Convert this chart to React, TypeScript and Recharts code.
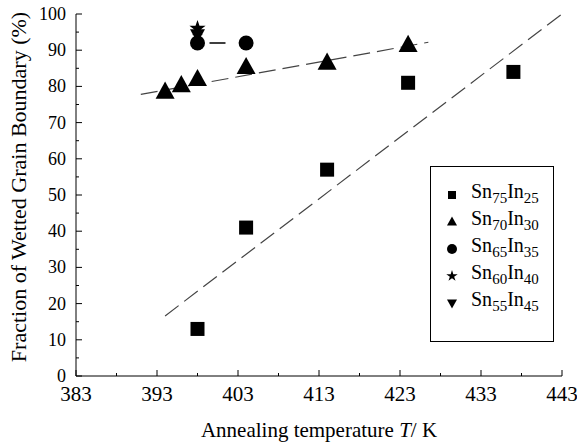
import {
  ComposedChart, Scatter, XAxis, YAxis, Label,
} from "recharts";

const FONT = "'Liberation Serif', 'DejaVu Serif', serif";

// measured points, T in K, fraction in %
const sn75 = [
  { t: 398, f: 13 },
  { t: 404, f: 41 },
  { t: 414, f: 57 },
  { t: 424, f: 81 },
  { t: 437, f: 84 },
];
const sn70 = [
  { t: 394, f: 78.5 },
  { t: 396, f: 80.3 },
  { t: 398, f: 82 },
  { t: 404, f: 85.3 },
  { t: 414, f: 86.5 },
  { t: 424, f: 91.4 },
];
const sn65 = [
  { t: 398, f: 92 },
  { t: 404, f: 92 },
];
const sn60 = [{ t: 398, f: 96 }];
const sn55 = [{ t: 398, f: 94.3 }];

// dashed guide lines (end points)
const fit75 = [
  { t: 394, f: 16.6 },
  { t: 443, f: 100 },
];
const fit70 = [
  { t: 391, f: 77.8 },
  { t: 426.5, f: 92.2 },
];

const xTicks = [383, 388, 393, 398, 403, 408, 413, 418, 423, 428, 433, 438, 443];
const xMajor = [383, 393, 403, 413, 423, 433, 443];
const yTicks = [0, 5, 10, 15, 20, 25, 30, 35, 40, 45, 50, 55, 60, 65, 70, 75, 80, 85, 90, 95, 100];

const legendItems = [
  { a: "75", b: "25", mark: "square" },
  { a: "70", b: "30", mark: "triangle" },
  { a: "65", b: "35", mark: "circle" },
  { a: "60", b: "40", mark: "star" },
  { a: "55", b: "45", mark: "down" },
];

function starPath(cx: number, cy: number, R: number, r: number) {
  let d = "";
  for (let i = 0; i < 10; i++) {
    const rad = i % 2 === 0 ? R : r;
    const a = -Math.PI / 2 + (i * Math.PI) / 5;
    d += (i === 0 ? "M" : "L") + (cx + rad * Math.cos(a)).toFixed(2) + "," + (cy + rad * Math.sin(a)).toFixed(2);
  }
  return d + "Z";
}

function Marker({ kind, cx, cy, s }: { kind: string; cx: number; cy: number; s: number }) {
  if (kind === "square") return <rect x={cx - s / 2} y={cy - s / 2} width={s} height={s} fill="#000" />;
  if (kind === "circle") return <circle cx={cx} cy={cy} r={s / 2} fill="#000" />;
  if (kind === "triangle") {
    const h = s * 0.9;
    return <path d={`M${cx},${cy - h * 0.6} L${cx + s / 2},${cy + h * 0.4} L${cx - s / 2},${cy + h * 0.4} Z`} fill="#000" />;
  }
  if (kind === "down") {
    const h = s * 0.9;
    return <path d={`M${cx},${cy + h * 0.6} L${cx + s / 2},${cy - h * 0.4} L${cx - s / 2},${cy - h * 0.4} Z`} fill="#000" />;
  }
  return <path d={starPath(cx, cy, s / 2 + 1, s / 4.4)} fill="#000" />;
}

const shapeOf = (kind: string, s: number) =>
  // eslint-disable-next-line @typescript-eslint/no-explicit-any
  (p: any) => <Marker kind={kind} cx={p.cx} cy={p.cy} s={s} />;

const noShape = () => <g />;

// eslint-disable-next-line @typescript-eslint/no-explicit-any
const XTick = ({ x, y, payload }: any) => {
  const major = xMajor.includes(payload.value);
  return (
    <g>
      <line x1={x} x2={x} y1={y} y2={y - (major ? 6 : 3)} stroke="#000" />
      {major && (
        <text x={x} y={y + 25} textAnchor="middle" style={{ fontFamily: FONT }} fontSize={21} fill="#000">{payload.value}</text>
      )}
    </g>
  );
};

// eslint-disable-next-line @typescript-eslint/no-explicit-any
const YTick = ({ x, y, payload }: any) => {
  const major = payload.value % 10 === 0;
  return (
    <g>
      <line x1={x} x2={x + (major ? 6 : 3)} y1={y} y2={y} stroke="#000" />
      {major && (
        <text x={x - 10} y={y + 6} textAnchor="end" style={{ fontFamily: FONT }} fontSize={18} fill="#000">{payload.value}</text>
      )}
    </g>
  );
};

// eslint-disable-next-line @typescript-eslint/no-explicit-any
const XLabel = ({ viewBox }: any) => (
  <text x={viewBox.x + viewBox.width / 2} y={viewBox.y + 61} textAnchor="middle" style={{ fontFamily: FONT }} fontSize={21} fill="#000">
    Annealing temperature <tspan fontStyle="italic">T</tspan>/ K
  </text>
);

// eslint-disable-next-line @typescript-eslint/no-explicit-any
const YLabel = ({ viewBox }: any) => {
  const cx = 18;
  const cy = viewBox.y + viewBox.height / 2 - 8;
  return (
    <text x={cx} y={cy} transform={`rotate(-90 ${cx} ${cy})`} textAnchor="middle" dominantBaseline="central" style={{ fontFamily: FONT }} fontSize={22} fill="#000">
      Fraction of Wetted Grain Boundary (%)
    </text>
  );
};

const LegendBox = () => (
  <div style={{
    position: "absolute", left: 430, top: 166,
    width: 124, height: 176, border: "1px solid #000", background: "#fff",
    boxSizing: "border-box", padding: "14px 0 0 0", fontFamily: FONT, color: "#000",
  }}>
    {legendItems.map((it) => (
      <div key={it.a} style={{ display: "flex", alignItems: "center", height: 27 }}>
        <svg width={40} height={20} style={{ flex: "none" }}>
          <Marker kind={it.mark} cx={21} cy={10} s={it.mark === "square" ? 8 : 10} />
        </svg>
        <span style={{ fontSize: 20, lineHeight: "20px", whiteSpace: "nowrap" }}>
          Sn<sub style={{ fontSize: 15, verticalAlign: "-5px" }}>{it.a}</sub>In<sub style={{ fontSize: 15, verticalAlign: "-5px" }}>{it.b}</sub>
        </span>
      </div>
    ))}
  </div>
);

export default function App() {
  return (
    <div style={{ position: "absolute", left: 0, top: 0, width: 577, height: 443, background: "#fff" }}>
      <ComposedChart width={577} height={443} margin={{ top: 14, right: 15, bottom: 0, left: 0 }}>
        <XAxis
          dataKey="t" type="number" domain={[383, 443]} ticks={xTicks} interval={0}
          allowDataOverflow height={67} tickSize={0} tickMargin={0} tickLine={false}
          axisLine={{ stroke: "#000" }} tick={<XTick />}
        >
          <Label content={<XLabel />} />
        </XAxis>
        <XAxis xAxisId="top" orientation="top" type="number" domain={[383, 443]} height={0}
          tick={false} tickLine={false} axisLine={{ stroke: "#000" }} />
        <YAxis
          dataKey="f" type="number" domain={[0, 100]} ticks={yTicks} interval={0}
          allowDataOverflow width={76} tickSize={0} tickMargin={0} tickLine={false}
          axisLine={{ stroke: "#000" }} tick={<YTick />}
        >
          <Label content={<YLabel />} />
        </YAxis>
        <YAxis yAxisId="right" orientation="right" type="number" domain={[0, 100]} width={0}
          tick={false} tickLine={false} axisLine={{ stroke: "#000" }} />
        <Scatter data={fit75} shape={noShape} line={{ stroke: "#444", strokeWidth: 1.2, strokeDasharray: "17 7" }} lineType="joint" isAnimationActive={false} legendType="none" />
        <Scatter data={fit70} shape={noShape} line={{ stroke: "#444", strokeWidth: 1.2, strokeDasharray: "17 7" }} lineType="joint" isAnimationActive={false} legendType="none" />
        <Scatter data={sn65} shape={noShape} line={{ stroke: "#000", strokeWidth: 1.5, strokeDasharray: "0 12 16 8" }} lineType="joint" isAnimationActive={false} legendType="none" />
        <Scatter name="Sn75In25" data={sn75} shape={shapeOf("square", 14)} isAnimationActive={false} />
        <Scatter name="Sn70In30" data={sn70} shape={shapeOf("triangle", 19)} isAnimationActive={false} />
        <Scatter name="Sn65In35" data={sn65} shape={shapeOf("circle", 15)} isAnimationActive={false} />
        <Scatter name="Sn55In45" data={sn55} shape={shapeOf("down", 15)} isAnimationActive={false} />
        <Scatter name="Sn60In40" data={sn60} shape={shapeOf("star", 15)} isAnimationActive={false} />
      </ComposedChart>
      <LegendBox />
    </div>
  );
}
